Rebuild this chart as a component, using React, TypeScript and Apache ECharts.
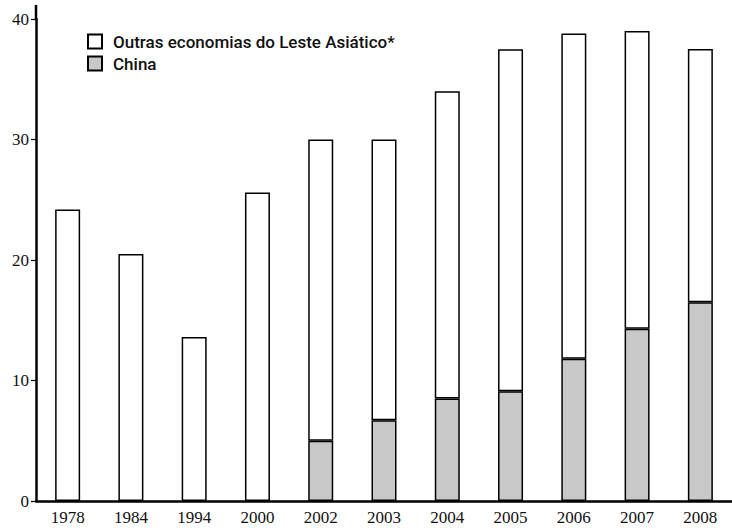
import React, { useEffect, useRef } from "react";
import * as echarts from "echarts";

const years = ["1978", "1984", "1994", "2000", "2002", "2003", "2004", "2005", "2006", "2007", "2008"];
const china: (number | null)[] = [null, null, null, null, 5.0, 6.7, 8.5, 9.1, 11.8, 14.3, 16.5];
const others: number[] = [24.2, 20.5, 13.6, 25.6, 25.0, 23.3, 25.5, 28.4, 27.0, 24.7, 21.0];
const yTicks = [0, 10, 20, 30, 40];

const App: React.FC = () => {
  const ref = useRef<HTMLDivElement>(null);
  useEffect(() => {
    if (!ref.current) return;
    const chart = echarts.init(ref.current, null, { renderer: "svg" });
    const serif = "'Liberation Serif', 'DejaVu Serif', serif";
    const narrow = "'Roboto', 'Liberation Sans', sans-serif";
    chart.setOption({
      animation: false,
      backgroundColor: "#ffffff",
      grid: { left: 36, top: 19, bottom: 29, width: 697, containLabel: false },
      legend: {
        orient: "vertical",
        left: 82,
        top: 28,
        icon: "rect",
        itemWidth: 14,
        itemHeight: 14,
        itemGap: 5,
        data: ["Outras economias do Leste Asiático*", "China"],
        textStyle: { fontFamily: narrow, fontSize: 17, fontWeight: 500, color: "#111", padding: [0, 0, 0, 6] },
      },
      xAxis: {
        type: "category",
        data: years,
        axisLine: { lineStyle: { color: "#000", width: 2.5 } },
        axisTick: { alignWithLabel: true, length: 4, lineStyle: { color: "#000", width: 1 } },
        axisLabel: { fontFamily: serif, fontSize: 17, color: "#111", margin: 8 },
      },
      yAxis: {
        type: "value",
        min: yTicks[0],
        max: yTicks[yTicks.length - 1],
        interval: 10,
        splitLine: { show: false },
        axisLine: { show: true, lineStyle: { color: "#000", width: 2.5 } },
        axisTick: { show: true, length: 5, lineStyle: { color: "#000", width: 1.2 } },
        axisLabel: { fontFamily: serif, fontSize: 17, color: "#111", margin: 7 },
      },
      graphic: [
        { type: "line", shape: { x1: 36, y1: 5, x2: 36, y2: 20 }, style: { stroke: "#000", lineWidth: 2.5 } },
      ],
      series: [
        {
          name: "China",
          type: "bar",
          stack: "t",
          data: china,
          barWidth: 25,
          itemStyle: { color: "#c8c8c9", borderColor: "#000", borderWidth: 1.5 },
        },
        {
          name: "Outras economias do Leste Asiático*",
          type: "bar",
          stack: "t",
          data: others,
          barWidth: 25,
          itemStyle: { color: "#ffffff", borderColor: "#000", borderWidth: 1.5 },
        },
      ],
    });
    return () => chart.dispose();
  }, []);
  return <div ref={ref} style={{ position: "absolute", left: 0, top: 0, width: 732, height: 530 }} />;
};

export default App;
